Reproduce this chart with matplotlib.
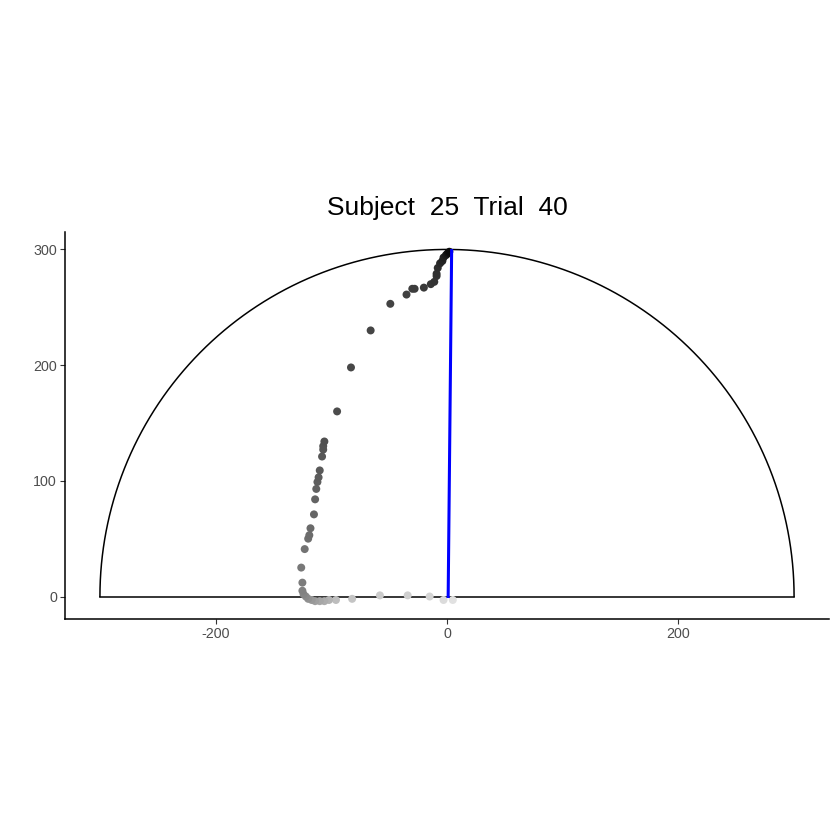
import numpy as np
import matplotlib.pyplot as plt
from matplotlib.colors import LinearSegmentedColormap

plt.rcParams['font.family'] = ['Liberation Sans', 'DejaVu Sans']
plt.rcParams['axes.unicode_minus'] = False

# trajectory samples (x, y) and relative time used for the grey shade
traj_x = [5, -3, -15, -34, -58, -82, -96, -102, -106, -110, -114, -117, -120,
          -122, -124, -125, -125, -126, -123, -120, -119, -118, -115, -114,
          -113, -112, -111, -110, -108, -107, -107, -106, -95, -83, -66, -49,
          -35, -30, -28, -20, -14, -11, -9, -9, -8, -6, -4, -3, -1, 0, 1, 2]
traj_y = [-3, -3, 0, 1, 1, -2, -3, -3, -4, -4, -4, -3, -2,
          0, 2, 5, 12, 25, 41, 50, 53, 59, 71, 84,
          93, 99, 103, 109, 121, 127, 130, 134, 160, 198, 230, 253,
          261, 266, 266, 267, 270, 272, 277, 279, 284, 288, 290, 293, 295, 296, 297, 298]
traj_t = [0.02, 0.05, 0.08, 0.10, 0.12, 0.15, 0.18, 0.22, 0.25, 0.28, 0.31, 0.34, 0.37,
          0.40, 0.42, 0.44, 0.46, 0.48, 0.50, 0.52, 0.53, 0.54, 0.56, 0.57,
          0.58, 0.59, 0.60, 0.61, 0.62, 0.63, 0.64, 0.65, 0.67, 0.69, 0.70, 0.71,
          0.72, 0.73, 0.74, 0.75, 0.76, 0.77, 0.78, 0.79, 0.80, 0.82, 0.84, 0.86, 0.88, 0.90, 0.93, 0.96]

# target direction line
target_x = [1, 4]
target_y = [0, 299]

radius = 300
subject, trial = 25, 40

fig = plt.figure(figsize=(8.4, 8.4), dpi=100)
ax = fig.add_axes([0.0762, 0.263, 0.9119, 0.4607])

# semicircle boundary
theta = np.linspace(0, np.pi, 400)
ax.plot(radius * np.cos(theta), radius * np.sin(theta), color='black', lw=1.1, zorder=1)
ax.plot([-radius, radius], [0, 0], color='black', lw=1.1, zorder=1)

cmap = LinearSegmentedColormap.from_list('greys', ['#e6e6e6', '#000000'])
ax.scatter(traj_x, traj_y, c=traj_t, cmap=cmap, vmin=0, vmax=1, s=33,
           edgecolors='none', zorder=2)

ax.plot(target_x, target_y, color='#0000ff', lw=2.2, zorder=3)

ax.set_xlim(-330, 330)
ax.set_ylim(-19.5, 315)
ax.set_aspect('equal', adjustable='box')
ax.set_xticks([-200, 0, 200])
ax.set_yticks([0, 100, 200, 300])
for s in ['top', 'right']:
    ax.spines[s].set_visible(False)
for s in ['left', 'bottom']:
    ax.spines[s].set_linewidth(1.1)
ax.tick_params(length=3.5, width=0.8, color='#333333', labelcolor='#4d4d4d',
               labelsize=10.3, pad=2.5)

ax.set_title(f'Subject  {subject}  Trial  {trial}', fontsize=19, pad=12)

fig.savefig('out.png', dpi=100)
